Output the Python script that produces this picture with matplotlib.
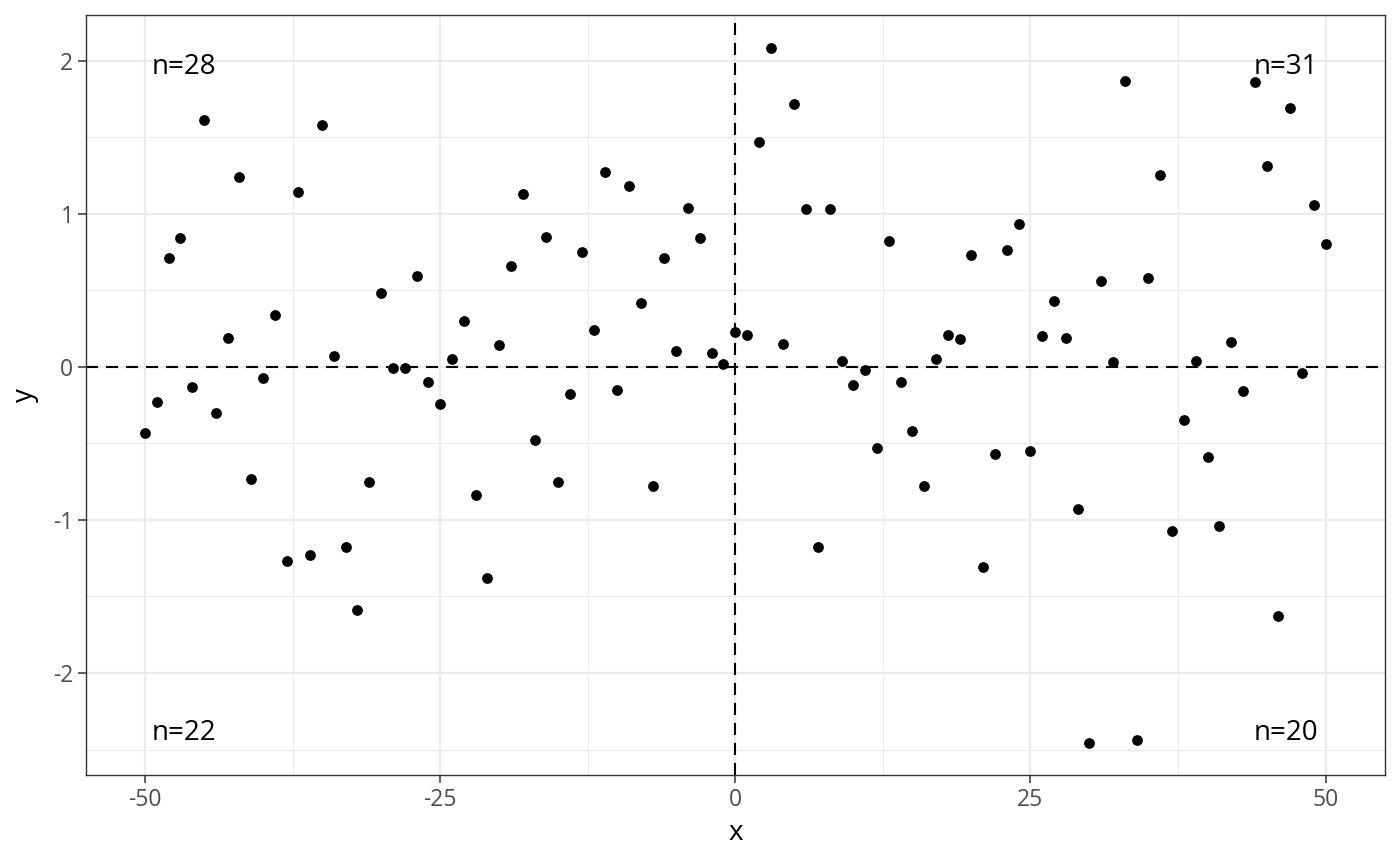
import matplotlib
matplotlib.use("Agg")
import matplotlib.pyplot as plt

plt.rcParams["font.family"] = ["Open Sans", "DejaVu Sans"]

# Data: x runs -50..50, y
x = list(range(-50, 51))
y = [
    -0.43, -0.23, 0.71, 0.84, -0.13, 1.61, -0.30, 0.19, 1.24, -0.73,
    -0.07, 0.34, -1.27, 1.14, -1.23, 1.58, 0.07, -1.18, -1.59, -0.75,
    0.48, -0.01, -0.01, 0.59, -0.10, -0.24, 0.05, 0.30, -0.84, -1.38,
    0.14, 0.66, 1.13, -0.48, 0.85, -0.75, -0.18, 0.75, 0.24, 1.27,
    -0.15, 1.18, 0.42, -0.78, 0.71, 0.10, 1.04, 0.84, 0.09, 0.02,
    0.23, 0.21, 1.47, 2.08, 0.15, 1.72, 1.03, -1.18, 1.03, 0.04,
    -0.12, -0.02, -0.53, 0.82, -0.10, -0.42, -0.78, 0.05, 0.21, 0.18,
    0.73, -1.31, -0.57, 0.76, 0.93, -0.55, 0.20, 0.43, 0.19, -0.93,
    -2.46, 0.56, 0.03, 1.87, -2.44, 0.58, 1.25, -1.07, -0.35, 0.04,
    -0.59, -1.04, 0.16, -0.16, 1.86, 1.31, -1.63, 1.69, -0.04, 1.06,
    0.80,
]

# quadrant counts
n_tl = sum(1 for a, b in zip(x, y) if a < 0 and b > 0)
n_tr = sum(1 for a, b in zip(x, y) if a >= 0 and b > 0)
n_bl = sum(1 for a, b in zip(x, y) if a < 0 and b <= 0)
n_br = sum(1 for a, b in zip(x, y) if a >= 0 and b <= 0)

fig = plt.figure(figsize=(14, 8.66), dpi=100)
ax = fig.add_axes([0.0614, 0.105, 0.9276, 0.878])

# grid (ggplot theme_bw look)
ax.set_xticks([-50, -25, 0, 25, 50])
ax.set_yticks([-2, -1, 0, 1, 2])
ax.set_xticks([-37.5, -12.5, 12.5, 37.5], minor=True)
ax.set_yticks([-2.5, -1.5, -0.5, 0.5, 1.5], minor=True)
ax.grid(True, which="major", color="#EBEBEB", linewidth=1.6)
ax.grid(True, which="minor", color="#EBEBEB", linewidth=0.8)
ax.tick_params(which="minor", length=0)
ax.tick_params(which="major", length=5.5, width=1.1, color="#333333",
               labelcolor="#4D4D4D", labelsize=16.5, pad=3.5)
ax.set_axisbelow(True)
for s in ax.spines.values():
    s.set_color("#333333")
    s.set_linewidth(1.0)

ax.axhline(0, color="black", linewidth=1.5, linestyle=(0, (5.8, 3.8)), zorder=2)
ax.axvline(0, color="black", linewidth=1.5, linestyle=(0, (5.8, 3.8)), zorder=2)

ax.scatter(x, y, s=60, color="black", linewidths=0, zorder=3)

ax.text(-49.4, 1.915, f"n={n_tl}", ha="left", va="baseline", fontsize=20)
ax.text(49.4, 1.915, f"n={n_tr}", ha="right", va="baseline", fontsize=20)
ax.text(-49.4, -2.438, f"n={n_bl}", ha="left", va="baseline", fontsize=20)
ax.text(49.4, -2.438, f"n={n_br}", ha="right", va="baseline", fontsize=20)

ax.set_xlim(-55, 55)
ax.set_ylim(-2.667, 2.30)
ax.set_xticklabels(["-50", "-25", "0", "25", "50"])
ax.set_yticklabels(["-2", "-1", "0", "1", "2"])
ax.set_xlabel("x", fontsize=20, va="center")
ax.set_ylabel("y", fontsize=20, va="center")
ax.xaxis.set_label_coords(0.5, -0.0763)
ax.yaxis.set_label_coords(-0.047, 0.5)

fig.savefig("out.png", dpi=100)
